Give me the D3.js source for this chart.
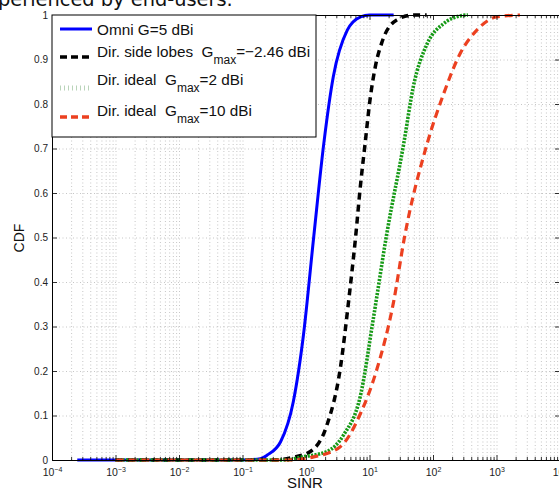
<!DOCTYPE html>
<html>
<head>
<meta charset="utf-8">
<script src="https://cdn.jsdelivr.net/npm/d3@7"></script>
<style>
  html, body { margin: 0; padding: 0; background: #fff; }
  svg { display: block; }
</style>
</head>
<body>
<svg id="chart" width="559" height="493"></svg>
<script>
// ---------------- data ----------------
const xMajorTicks = [1e-4, 1e-3, 1e-2, 1e-1, 1e0, 1e1, 1e2, 1e3, 1e4];
const xTickExponents = ["−4", "−3", "−2", "−1", "0", "1", "2", "3", "4"];
const yTicks = [0, 0.1, 0.2, 0.3, 0.4, 0.5, 0.6, 0.7, 0.8, 0.9, 1];
const yTickLabels = ["0", "0.1", "0.2", "0.3", "0.4", "0.5", "0.6", "0.7", "0.8", "0.9", "1"];

const seriesNames = [
  ["Omni G=5 dBi"],
  ["Dir. side lobes  G", "max", "=−2.46 dBi"],
  ["Dir. ideal  G", "max", "=2 dBi"],
  ["Dir. ideal  G", "max", "=10 dBi"]
];

const omniSINR = [0.00025, 0.1, 0.191, 0.245, 0.398, 0.631, 0.912, 1.32, 1.91, 2.69, 4.47, 7.24, 10, 24];
const omniCDF  = [0, 0, 0.003, 0.011, 0.041, 0.131, 0.281, 0.50, 0.712, 0.861, 0.966, 0.996, 1.0, 1.0];

const sideSINR = [0.001, 0.316, 0.63, 1.17, 2.14, 3.47, 4.68, 6.03, 7.24, 8.51, 10.2, 12.6, 15.8, 26.9, 49, 79.4];
const sideCDF  = [0, 0, 0.006, 0.019, 0.079, 0.206, 0.356, 0.50, 0.62, 0.71, 0.81, 0.89, 0.94, 0.989, 1.0, 1.0];

const ideal2SINR = [0.001, 0.5, 0.8, 2.14, 3.89, 7.24, 11.5, 18.6, 34.7, 49, 81.3, 148, 269, 355];
const ideal2CDF  = [0, 0, 0.006, 0.019, 0.056, 0.146, 0.318, 0.506, 0.712, 0.839, 0.936, 0.981, 0.998, 1.0];

const ideal10SINR = [0.001, 0.5, 1.32, 3.47, 7.24, 13.2, 24, 35.5, 81.3, 148, 269, 490, 1023, 2344];
const ideal10CDF  = [0, 0, 0.007, 0.03, 0.105, 0.206, 0.356, 0.50, 0.712, 0.824, 0.914, 0.966, 0.996, 1.0];

// ---------------- layout ----------------
const svg = d3.select("#chart");
const L = 52, R = 560, T = 15, B = 460;
const x = d3.scaleLog().domain([1e-4, 1e4]).range([L, R]);
const y = d3.scaleLinear().domain([0, 1]).range([B, T]);
const FONT = "'Liberation Sans', Arial, Helvetica, sans-serif";

// top cropped caption text (only its lower part is visible in the reference)
const cap = svg.append("text")
  .attr("x", 0).attr("y", 5.5)
  .attr("font-family", "'DejaVu Sans', Verdana, sans-serif")
  .attr("font-size", 19)
  .attr("fill", "#111")
  .text("experienced by end-users.");
{
  const node = cap.node();
  const wAll = node.getComputedTextLength();
  const wEx = node.getSubStringLength(0, 2);
  const fs = 19 * 235 / (wAll - wEx);
  cap.attr("font-size", fs);
  const wEx2 = node.getSubStringLength(0, 2);
  cap.attr("x", -2 - wEx2);
}

// minor tick values for the log axis (2..9 within each decade)
const xMinor = [];
xMajorTicks.slice(0, -1).forEach(d => { for (let k = 2; k <= 9; k++) xMinor.push(d * k); });

// ---------------- grid ----------------
const gridStyle = g => {
  g.select(".domain").remove();
  g.selectAll("line").attr("stroke", "#b8b8b8").attr("stroke-width", 0.8).attr("stroke-dasharray", "1,2.5");
  g.selectAll("text").remove();
};
svg.append("g").attr("transform", `translate(0,${B})`)
  .call(d3.axisBottom(x).tickValues(xMajorTicks.concat(xMinor)).tickSize(-(B - T)).tickFormat(""))
  .call(gridStyle);
svg.append("g").attr("transform", `translate(${L},0)`)
  .call(d3.axisLeft(y).tickValues(yTicks).tickSize(-(R - L)).tickFormat(""))
  .call(gridStyle);

// ---------------- curves ----------------
const line = d3.line().x(d => x(d[0])).y(d => y(d[1])).curve(d3.curveMonotoneX);
const series = [
  { sx: omniSINR, sy: omniCDF, color: "#0000ff", width: 3, dash: null },
  { sx: sideSINR, sy: sideCDF, color: "#000000", width: 3.5, dash: "7,5" },
  { sx: ideal2SINR, sy: ideal2CDF, color: "#169a16", width: 3.6, dash: "2.2,1.3" },
  { sx: ideal10SINR, sy: ideal10CDF, color: "#ec4020", width: 3.2, dash: "8,5" }
];
svg.append("clipPath").attr("id", "plotclip")
  .append("rect").attr("x", L).attr("y", T - 3).attr("width", R - L).attr("height", B - T + 6);
const curves = svg.append("g").attr("clip-path", "url(#plotclip)");
series.forEach(s => {
  curves.append("path")
    .datum(d3.zip(s.sx, s.sy))
    .attr("fill", "none")
    .attr("stroke", s.color)
    .attr("stroke-width", s.width)
    .attr("stroke-dasharray", s.dash)
    .attr("d", line);
});

// ---------------- axes ----------------
const axStyle = g => {
  g.select(".domain").attr("stroke", "#000").attr("stroke-width", 1);
  g.selectAll(".tick line").attr("stroke", "#000").attr("stroke-width", 0.8);
};
// bottom major
const xb = svg.append("g").attr("transform", `translate(0,${B})`)
  .call(d3.axisBottom(x).tickValues(xMajorTicks).tickSize(-5).tickSizeOuter(0).tickPadding(8.5))
  .call(axStyle);
xb.selectAll(".tick text").each(function (d, i) {
  const t = d3.select(this);
  t.text(null).attr("font-family", FONT).attr("font-size", 10.5).attr("fill", "#222").attr("dy", "0.71em");
  t.append("tspan").text("10");
  t.append("tspan").attr("font-size", 7).attr("dy", "-0.6em").text(xTickExponents[i]);
});
svg.append("g").attr("transform", `translate(0,${B})`)
  .call(d3.axisBottom(x).tickValues(xMinor).tickSize(-3).tickFormat(""))
  .call(axStyle).call(g => g.select(".domain").remove());
// top
svg.append("g").attr("transform", `translate(0,${T})`)
  .call(d3.axisTop(x).tickValues(xMajorTicks).tickSize(-5).tickSizeOuter(0).tickFormat(""))
  .call(axStyle);
svg.append("g").attr("transform", `translate(0,${T})`)
  .call(d3.axisTop(x).tickValues(xMinor).tickSize(-3).tickFormat(""))
  .call(axStyle).call(g => g.select(".domain").remove());
// left
const yl = svg.append("g").attr("transform", `translate(${L},0)`)
  .call(d3.axisLeft(y).tickValues(yTicks).tickSize(-5).tickSizeOuter(0).tickPadding(4)
    .tickFormat((d, i) => yTickLabels[i]))
  .call(axStyle);
yl.selectAll(".tick text").attr("font-family", FONT).attr("font-size", 10).attr("fill", "#222");
// right
svg.append("g").attr("transform", `translate(${R},0)`)
  .call(d3.axisRight(y).tickValues(yTicks).tickSize(-5).tickSizeOuter(0).tickFormat(""))
  .call(axStyle);

// axis labels
svg.append("text")
  .attr("x", 305).attr("y", 488)
  .attr("text-anchor", "middle")
  .attr("font-family", FONT).attr("font-size", 15).attr("fill", "#111")
  .text("SINR");
svg.append("text")
  .attr("transform", "translate(24,238) rotate(-90)")
  .attr("text-anchor", "middle")
  .attr("font-family", FONT).attr("font-size", 14).attr("fill", "#111")
  .text("CDF");

// ---------------- legend ----------------
const lg = svg.append("g");
lg.append("rect")
  .attr("x", L).attr("y", T).attr("width", 316 - L).attr("height", 137 - T)
  .attr("fill", "#fff").attr("stroke", "#000").attr("stroke-width", 1);
const legendLineY = [29, 57, 88, 117];
const legendTextY = [35, 56.5, 85, 116];
const legendStyles = [
  { color: "#0000ff", width: 3, dash: null },
  { color: "#000000", width: 3.5, dash: "7,4" },
  { color: "#b9d4b9", width: 5, dash: "1,3" },
  { color: "#ec4020", width: 3.5, dash: "7,4" }
];
seriesNames.forEach((parts, i) => {
  const st = legendStyles[i];
  lg.append("line")
    .attr("x1", 60).attr("x2", 92)
    .attr("y1", legendLineY[i]).attr("y2", legendLineY[i])
    .attr("stroke", st.color).attr("stroke-width", st.width)
    .attr("stroke-dasharray", st.dash);
  const t = lg.append("text")
    .attr("x", 97).attr("y", legendTextY[i])
    .attr("font-family", FONT).attr("font-size", 15.3).attr("fill", "#111")
    .attr("xml:space", "preserve")
    .style("white-space", "pre");
  t.append("tspan").text(parts[0]);
  if (parts.length > 1) {
    t.append("tspan").attr("font-size", 12).attr("dy", 7).text(parts[1]);
    t.append("tspan").attr("dy", -7).text(parts[2]);
  }
});
</script>
</body>
</html>
